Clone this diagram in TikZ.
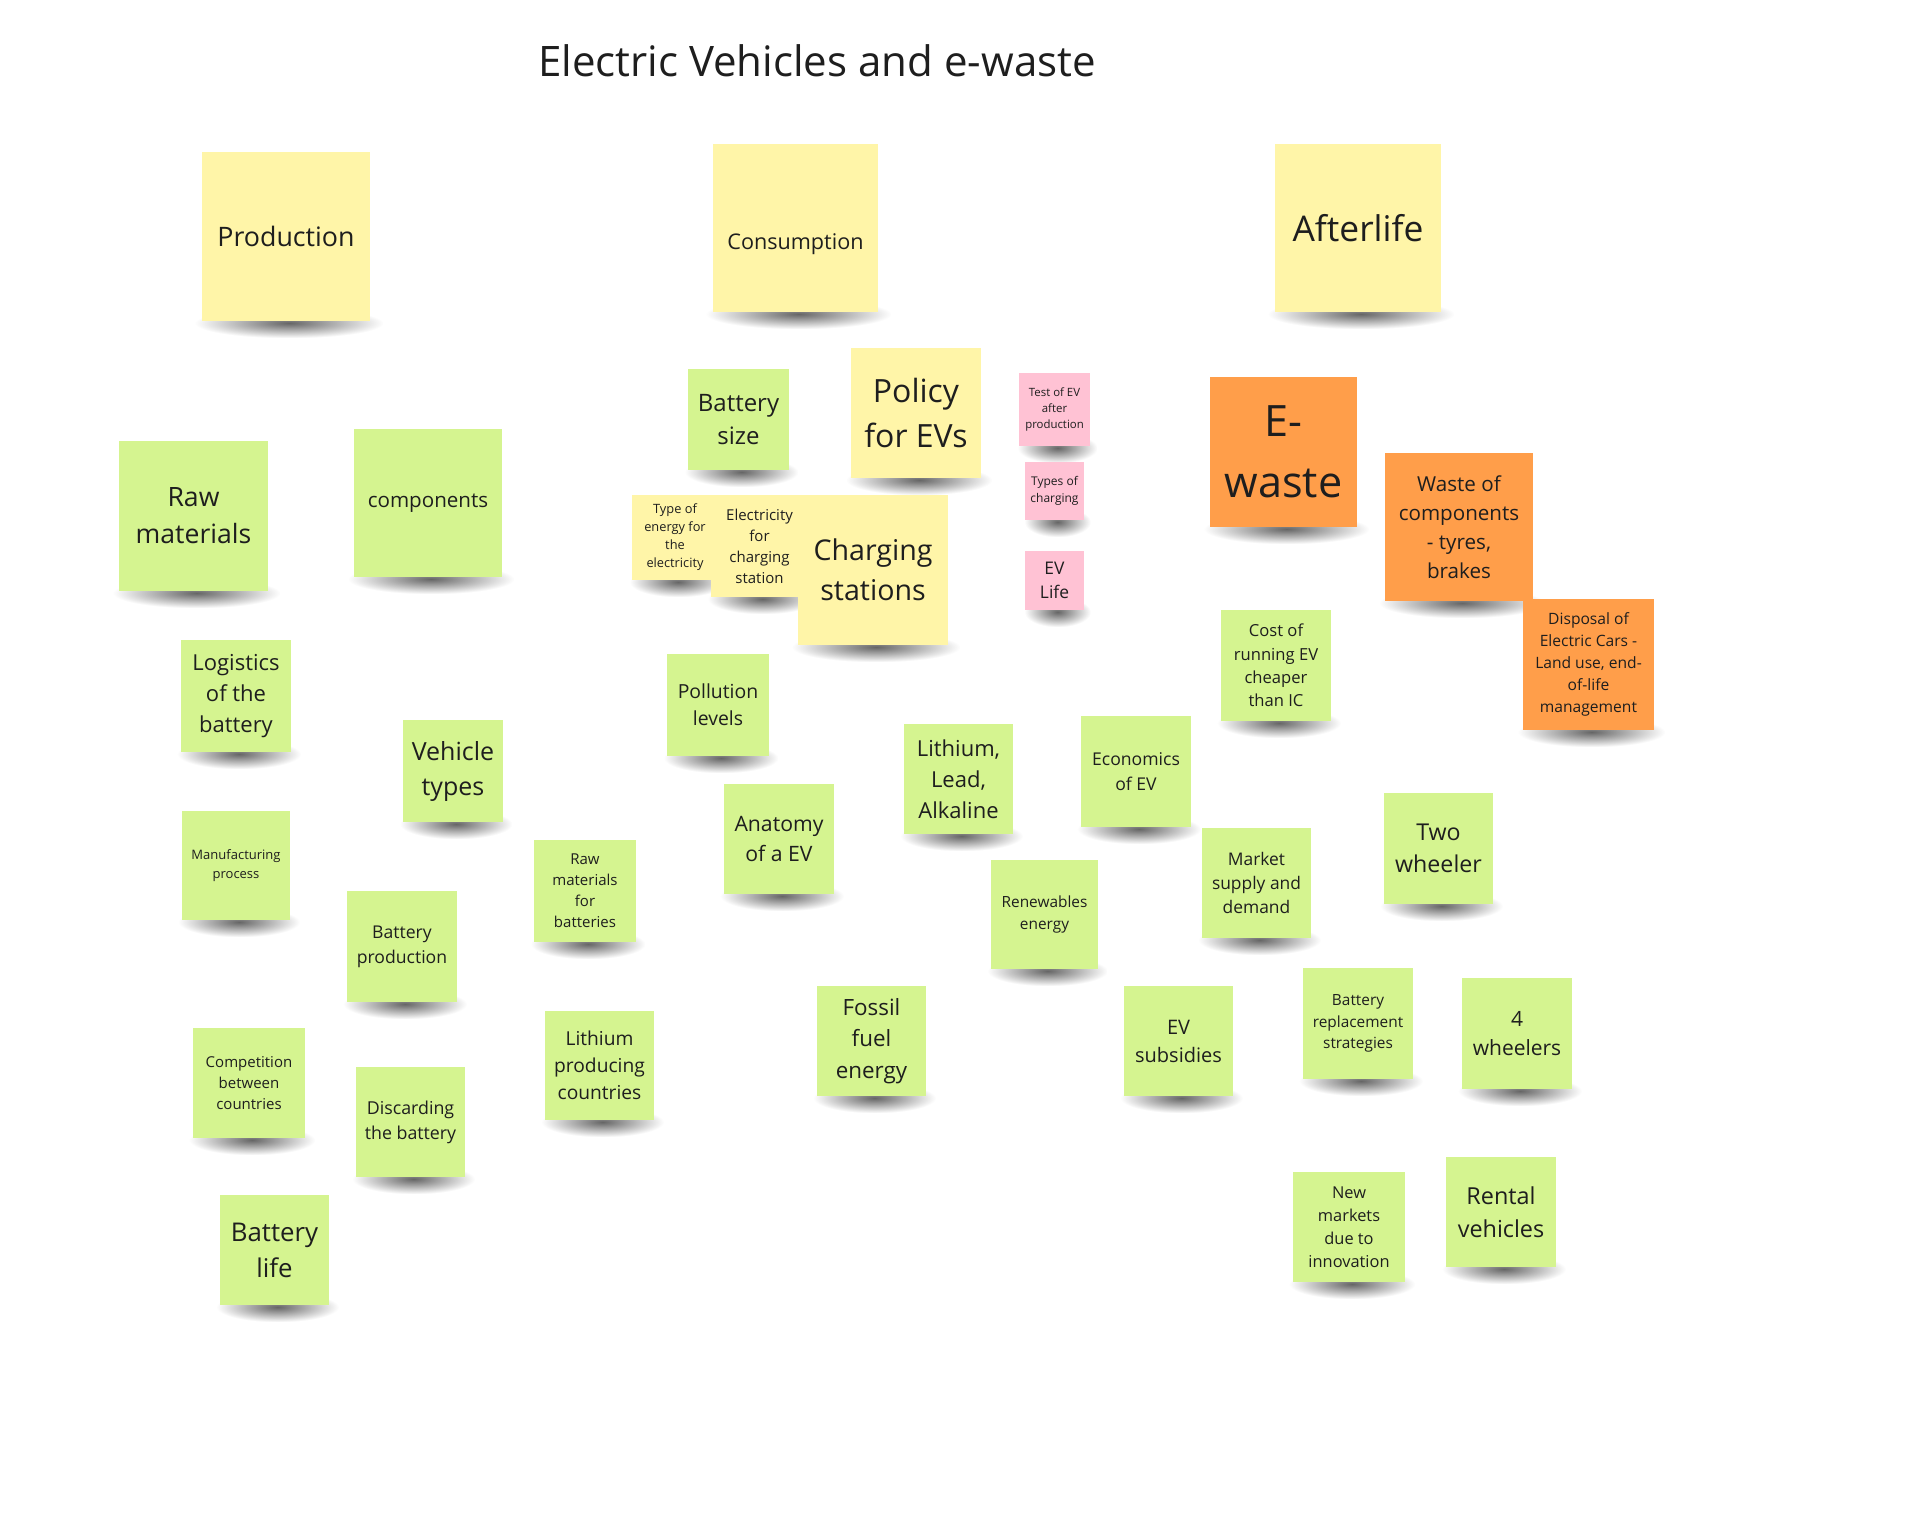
\documentclass[tikz,border=0pt]{standalone}
\usepackage{fontspec}
\setmainfont{Open Sans}
\usetikzlibrary{fadings}
\definecolor{ynote}{HTML}{FFF5A8}
\definecolor{gnote}{HTML}{D5F490}
\definecolor{onote}{HTML}{FF9E4A}
\definecolor{pnote}{HTML}{FFC2D4}
\definecolor{inkc}{HTML}{1E1E1E}
\tikzfading[name=softshadow, inner color=transparent!20, outer color=transparent!100]
\newcommand\fsz[1]{\fontsize{#1}{\fpeval{1.4*#1}}\selectfont}
\tikzset{
  note/.style={inner sep=0pt, align=center, text=inkc},
  ynotestyle/.style={note, fill=ynote},
  gnotestyle/.style={note, fill=gnote},
  onotestyle/.style={note, fill=onote},
  pnotestyle/.style={note, fill=pnote},
  noteshadow/.style={fill=black!75, path fading=softshadow},
  titlestyle/.style={inner sep=0pt, text=inkc, font=\fsz{21}}
}
% #1 name, #2 style, #3 x1, #4 y1, #5 x2, #6 y2, #7 font size, #8 text
\newcommand\stickynote[8]{%
  \fill[noteshadow] ({(#3+#5)/2+3-0.56*(#5-#3)},{#6-13}) rectangle ({(#3+#5)/2+3+0.56*(#5-#3)},{#6+17});
  \node[#2, font=\fsz{#7}, minimum width={(#5-#3)*0.5pt}, minimum height={(#6-#4)*0.5pt}] (#1) at ({(#3+#5)/2},{(#4+#6)/2}) {#8};
}
\begin{document}
\begin{tikzpicture}[x=0.5pt, y=-0.5pt]
\fill[white] (0,0) rectangle (1920,1525);
\useasboundingbox (0,0) rectangle (1920,1525);
\node[titlestyle] (title) at (817,61) {Electric Vehicles and e-waste};

\stickynote{production}{ynotestyle}{202}{152}{370}{321}{13.4}{Production}
\stickynote{consumption}{ynotestyle}{713}{144}{878}{312}{10.8}{\raisebox{-8pt}[\height][\depth]{Consumption}}
\stickynote{afterlife}{ynotestyle}{1275}{144}{1441}{312}{17.7}{Afterlife}

\stickynote{batterysize}{gnotestyle}{688}{369}{789}{470}{12}{Battery\\size}
\stickynote{policy}{ynotestyle}{851}{348}{981}{478}{16}{Policy\\for EVs}
\stickynote{testev}{pnotestyle}{1019}{373}{1090}{446}{5.7}{Test of EV\\after\\production}
\stickynote{typescharging}{pnotestyle}{1025}{462}{1084}{520}{6}{Types of\\charging}
\stickynote{evlife}{pnotestyle}{1025}{551}{1084}{610}{8.7}{EV\\Life}
\stickynote{ewaste}{onotestyle}{1210}{377}{1357}{527}{21.6}{E-\\waste}
\stickynote{wastecomp}{onotestyle}{1385}{453}{1533}{601}{10.3}{Waste of\\components\\- tyres,\\brakes}
\stickynote{disposal}{onotestyle}{1523}{599}{1654}{730}{7.8}{Disposal of\\Electric Cars -\\Land use, end-\\of-life\\management}

\stickynote{rawmat}{gnotestyle}{119}{441}{268}{591}{13.3}{Raw\\materials}
\stickynote{components}{gnotestyle}{354}{429}{502}{577}{10.3}{components}
\stickynote{typeenergy}{ynotestyle}{632}{495}{718}{580}{6.4}{Type of\\energy for\\the\\electricity}
\stickynote{electricity}{ynotestyle}{711}{495}{808}{597}{7.5}{Electricity\\for\\charging\\station}
\stickynote{charging}{ynotestyle}{798}{495}{948}{645}{14.3}{Charging\\stations}

\stickynote{logistics}{gnotestyle}{181}{640}{291}{752}{11}{Logistics\\of the\\battery}
\stickynote{vehicletypes}{gnotestyle}{403}{720}{503}{822}{12.5}{Vehicle\\types}
\stickynote{pollution}{gnotestyle}{667}{654}{769}{756}{9.7}{Pollution\\levels}
\stickynote{lithiumlead}{gnotestyle}{904}{724}{1013}{834}{11}{Lithium,\\Lead,\\Alkaline}
\stickynote{economics}{gnotestyle}{1081}{716}{1191}{827}{8.8}{Economics\\of EV}
\stickynote{cost}{gnotestyle}{1221}{610}{1331}{721}{8.3}{Cost of\\running EV\\cheaper\\than IC}

\stickynote{manufacturing}{gnotestyle}{182}{811}{290}{920}{6.5}{Manufacturing\\process}
\stickynote{anatomy}{gnotestyle}{724}{784}{834}{894}{10.6}{Anatomy\\of a EV}
\stickynote{rawbat}{gnotestyle}{534}{840}{636}{942}{7.5}{Raw\\materials\\for\\batteries}
\stickynote{batprod}{gnotestyle}{347}{891}{457}{1002}{8.8}{Battery\\production}
\stickynote{renewables}{gnotestyle}{991}{860}{1098}{969}{7.7}{Renewables\\energy}
\stickynote{market}{gnotestyle}{1202}{828}{1311}{938}{8.7}{Market\\supply and\\demand}
\stickynote{twowheeler}{gnotestyle}{1384}{793}{1493}{904}{11.6}{Two\\wheeler}

\stickynote{competition}{gnotestyle}{193}{1028}{305}{1138}{7.5}{Competition\\between\\countries}
\stickynote{discarding}{gnotestyle}{356}{1067}{465}{1177}{8.9}{Discarding\\the battery}
\stickynote{lithiumprod}{gnotestyle}{545}{1011}{654}{1120}{9.6}{Lithium\\producing\\countries}
\stickynote{fossil}{gnotestyle}{817}{986}{926}{1096}{11.2}{Fossil\\fuel\\energy}
\stickynote{subsidies}{gnotestyle}{1124}{986}{1233}{1096}{10}{EV\\subsidies}
\stickynote{batreplace}{gnotestyle}{1303}{968}{1413}{1079}{7.7}{Battery\\replacement\\strategies}
\stickynote{fourwheel}{gnotestyle}{1462}{978}{1572}{1089}{10.5}{4\\wheelers}

\stickynote{batlife}{gnotestyle}{220}{1195}{329}{1305}{12.9}{Battery\\life}
\stickynote{newmarkets}{gnotestyle}{1293}{1172}{1405}{1282}{8.2}{New\\markets\\due to\\innovation}
\stickynote{rental}{gnotestyle}{1446}{1157}{1556}{1267}{11.7}{Rental\\vehicles}
\end{tikzpicture}
\end{document}
